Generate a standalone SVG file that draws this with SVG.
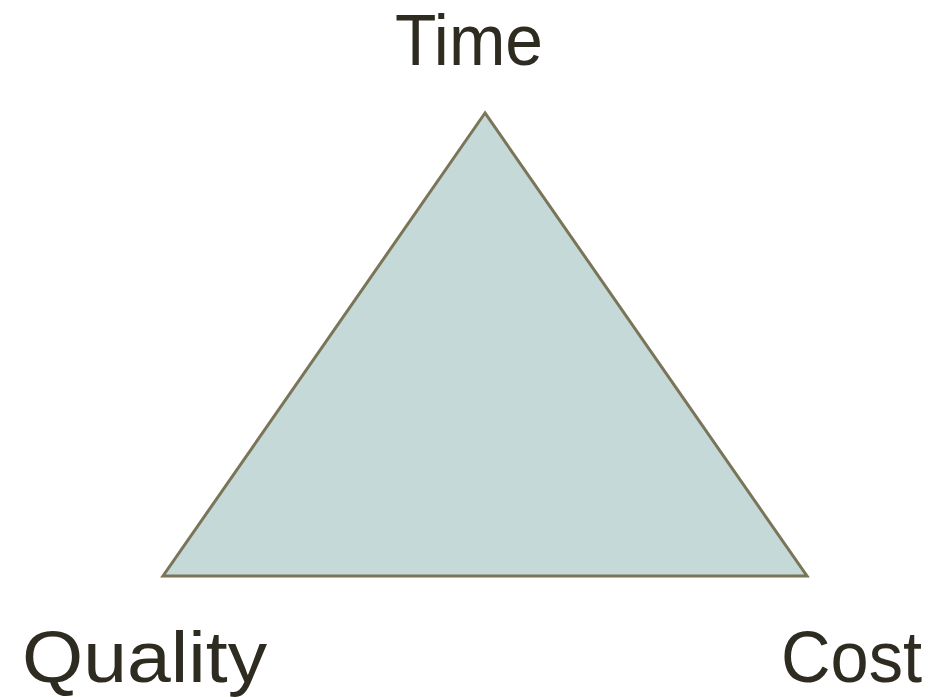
<svg xmlns="http://www.w3.org/2000/svg" width="951" height="697" viewBox="0 0 951 697">
<style>
.lbl{font-family:"Liberation Sans","DejaVu Sans",sans-serif;font-size:73px;fill:#2E2B21;}
</style>
<rect width="951" height="697" fill="#ffffff"/>
<g id="triangle">
<polygon points="485,113 163,576 807,576" fill="#C5D9D9" stroke="#7A7558" stroke-width="3" stroke-linejoin="miter"/>
</g>
<g id="time"><text class="lbl" x="395" y="65" textLength="148" lengthAdjust="spacingAndGlyphs">Time</text></g>
<g id="quality"><text class="lbl" x="22" y="682" textLength="245" lengthAdjust="spacingAndGlyphs">Quality</text></g>
<g id="cost"><text class="lbl" x="781" y="682" textLength="141" lengthAdjust="spacingAndGlyphs">Cost</text></g>
</svg>
